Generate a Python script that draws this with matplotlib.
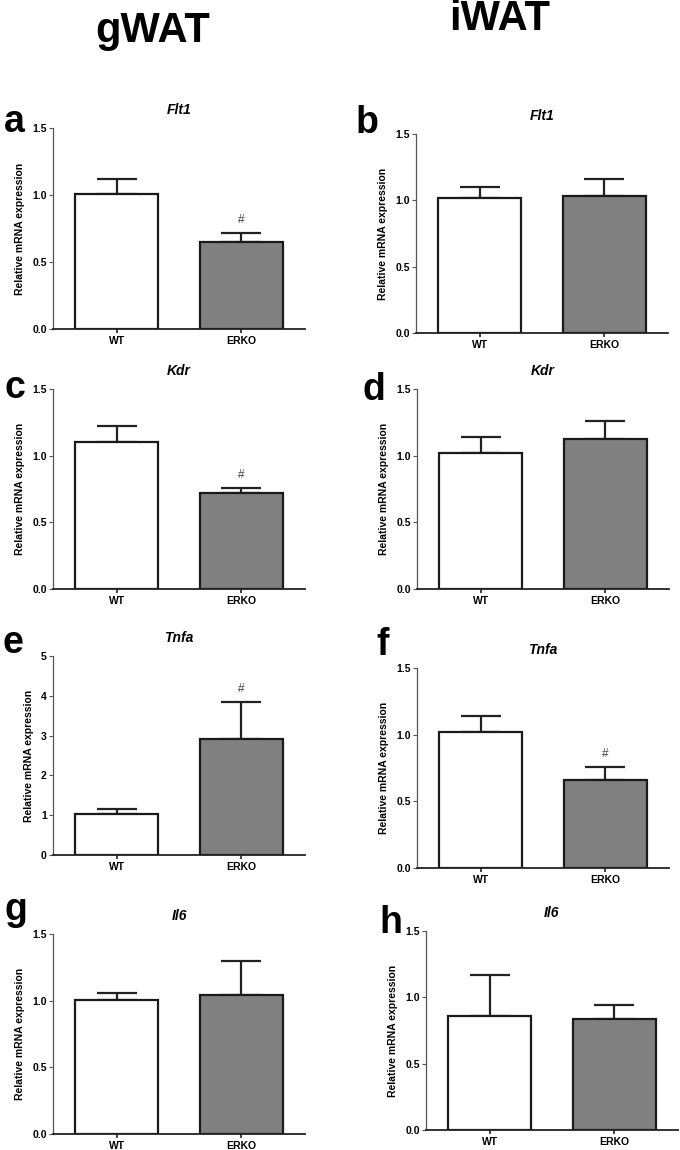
import matplotlib
matplotlib.use("Agg")
import matplotlib.pyplot as plt
import numpy as np

plt.rcParams['font.family'] = ['Liberation Sans', 'DejaVu Sans']

# data
groups = ['WT', 'ERKO']
genes = ['Flt1', 'Kdr', 'Tnfa', 'Il6']

gwat_mean = [[1.01, 0.65], [1.10, 0.72], [1.03, 2.91], [1.005, 1.04]]
gwat_sem = [[0.107, 0.07], [0.12, 0.04], [0.13, 0.93], [0.055, 0.26]]
gwat_sig = [[False, True], [False, True], [False, True], [False, False]]

iwat_mean = [[1.02, 1.03], [1.02, 1.125], [1.02, 0.66], [0.86, 0.835]]
iwat_sem = [[0.08, 0.13], [0.12, 0.135], [0.12, 0.10], [0.31, 0.105]]
iwat_sig = [[False, False], [False, False], [False, True], [False, False]]

gwat_ymax = [1.5, 1.5, 5, 1.5]
iwat_ymax = [1.5, 1.5, 1.5, 1.5]

W, H = 680, 1150
fig = plt.figure(figsize=(W / 100, H / 100), dpi=100)

# panel boxes in pixels: left, top, bottom
boxes_g = [(53, 128, 329), (53, 389, 589), (53, 656, 855), (53, 934, 1134)]
boxes_i = [(416, 134, 333), (417, 389, 589), (417, 668, 868), (426, 931, 1130)]
axw = 252

letters_g = [('a', 4, 132), ('c', 5, 398), ('e', 3, 653), ('g', 4, 920)]
letters_i = [('b', 356, 133), ('d', 362, 400), ('f', 376, 655), ('h', 379, 933)]

x = np.arange(len(groups))


def draw(box, mean, sem, sig, gene, ymax):
    l, t, b = box
    ax = fig.add_axes([l / W, 1 - b / H, axw / W, (b - t) / H])
    ax.bar(x, mean, width=0.664, color=['white', '#808080'],
           edgecolor='#1a1a1a', linewidth=1.6, zorder=2)
    ax.errorbar(x, mean, yerr=[np.zeros(2), sem], fmt='none', ecolor='#222222',
                elinewidth=1.6, capsize=14.5, capthick=1.6, zorder=1)
    for i in range(2):
        if sig[i]:
            ax.annotate('#', (x[i], mean[i] + sem[i]), xytext=(0, 5),
                        textcoords='offset points', ha='center', va='bottom',
                        fontsize=8.5, color='#444444')
    ax.set_xlim(-0.51, 1.51)
    ax.set_ylim(0, ymax)
    if ymax == 5:
        ax.set_yticks([0, 1, 2, 3, 4, 5])
        ax.set_yticklabels(['0', '1', '2', '3', '4', '5'])
    else:
        ax.set_yticks([0, 0.5, 1.0, 1.5])
        ax.set_yticklabels(['0.0', '0.5', '1.0', '1.5'])
    ax.set_xticks(x)
    ax.set_xticklabels(groups, fontsize=7.5, fontweight='bold')
    for lab in ax.get_yticklabels():
        lab.set_fontsize(7.5)
        lab.set_fontweight('bold')
    ax.tick_params(axis='y', length=3, width=0.8, color='#555555', pad=1.5)
    ax.tick_params(axis='x', length=3, width=1.2, color='#222222', pad=2)
    ax.spines['top'].set_visible(False)
    ax.spines['right'].set_visible(False)
    ax.spines['left'].set_color('#555555')
    ax.spines['left'].set_linewidth(0.9)
    ax.spines['bottom'].set_color('#222222')
    ax.spines['bottom'].set_linewidth(1.3)
    ax.set_ylabel('Relative mRNA expression', fontsize=7.5, fontweight='bold', labelpad=5)
    ax.set_title(gene, fontsize=10, fontweight='bold', style='italic', pad=10)
    return ax


for k in range(4):
    draw(boxes_g[k], gwat_mean[k], gwat_sem[k], gwat_sig[k], genes[k], gwat_ymax[k])
    draw(boxes_i[k], iwat_mean[k], iwat_sem[k], iwat_sig[k], genes[k], iwat_ymax[k])

for letter, lx, ly in letters_g + letters_i:
    fig.text(lx / W, 1 - ly / H, letter, fontsize=27, fontweight='bold',
             ha='left', va='baseline')

fig.text(153 / W, 1 - 42 / H, 'gWAT', fontsize=30, fontweight='bold', ha='center', va='baseline')
fig.text(500 / W, 1 - 30 / H, 'iWAT', fontsize=30, fontweight='bold', ha='center', va='baseline')

fig.savefig('out.png', dpi=100)
